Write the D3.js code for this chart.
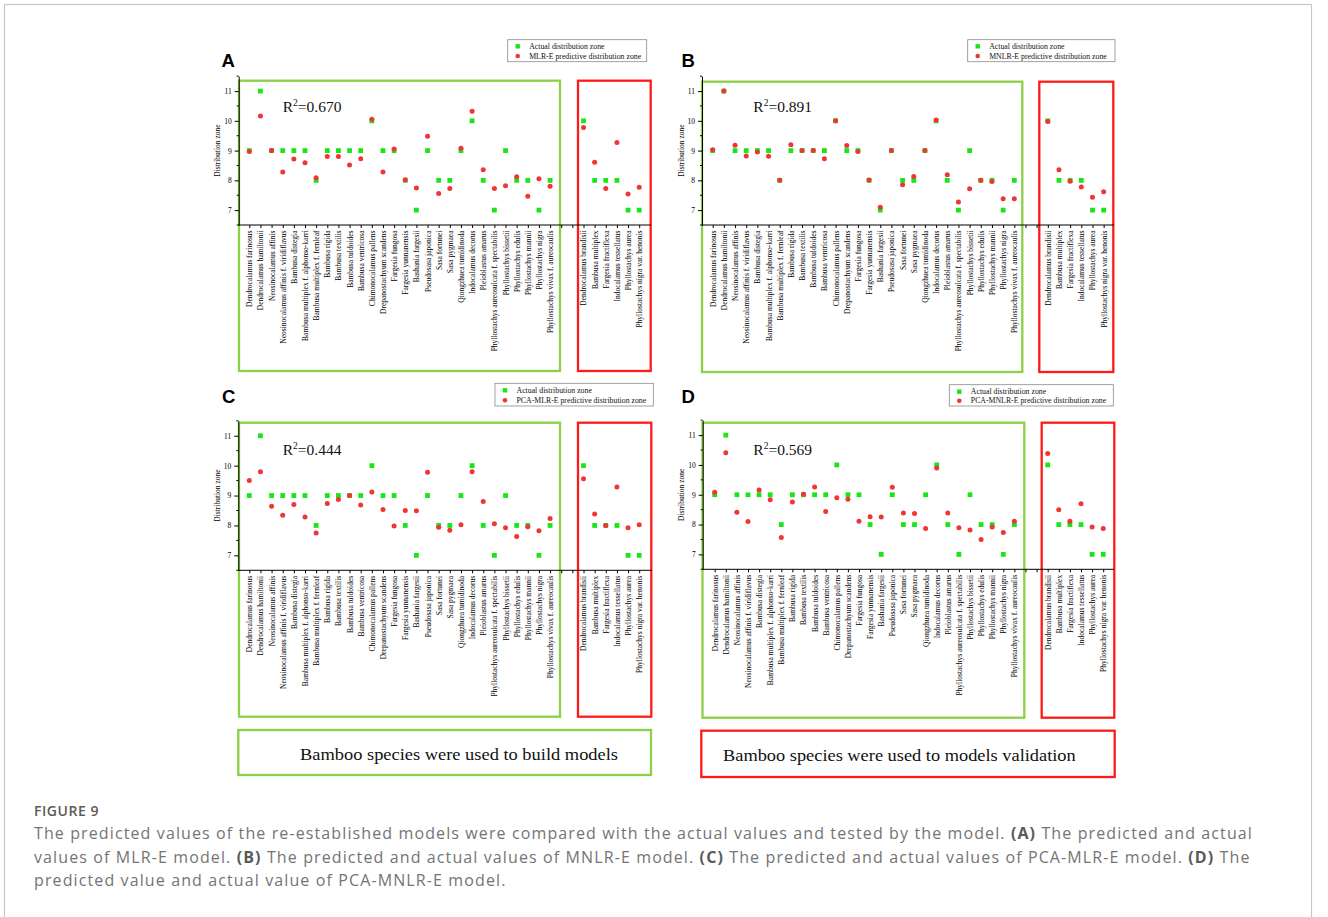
<!DOCTYPE html>
<html><head><meta charset="utf-8">
<script src="https://cdn.jsdelivr.net/npm/d3@7"></script>
<style>
html,body{margin:0;padding:0;background:#fff;}
svg{display:block;}
</style></head>
<body>
<svg id="fig" width="1328" height="917"></svg>
<script>
// ---------- DATA ----------
const buildSpecies = [
 "Dendrocalamus farinosus","Dendrocalamus hamiltonii","Neosinocalamus affinis",
 "Neosinocalamus affinis f. viridiflavus","Bambusa distegia","Bambusa multiplex f. alphonso-karri",
 "Bambusa multiplex f. fernleaf","Bambusa rigida","Bambusa textilis","Bambusa tuldoides",
 "Bambusa ventricosa","Chimonocalamus pallens","Drepanostachyum scandens","Fargesia fungosa",
 "Fargesia yunnanensis","Bashania fargesii","Pseudosasa japonica","Sasa fortunei","Sasa pygmaea",
 "Qiongzhuea tumidinoda","Indocalamus decorus","Pleioblastus amarus",
 "Phyllostachys aureosulcata f. spectabilis","Phyllostachys bissetii","Phyllostachys edulis",
 "Phyllostachys mannii","Phyllostachys nigra","Phyllostachys vivax f. aureocaulis"
];
const gapSlots = ["", " "];
const validationSpecies = [
 "Dendrocalamus brandisii","Bambusa multiplex","Fargesia fractiflexa",
 "Indocalamus tessellatus","Phyllostachys aurea","Phyllostachys nigra var. henonis"
];
const actualZone = [9,11,9,9,9,9,8,9,9,9,9,10,9,9,8,7,9,8,8,9,10,8,7,9,8,8,7,8, 10,8,8,8,7,7];
const predMLR = [8.97,10.16,9.0,8.28,8.72,8.59,8.09,8.8,8.8,8.52,8.73,10.05,8.28,9.05,8.02,7.74,9.48,7.56,7.73,9.08,10.32,8.36,7.73,7.82,8.12,7.47,8.05,7.8, 9.78,8.61,7.73,9.27,7.54,7.77];
const predMNLR = [9.03,11.0,9.18,8.82,8.95,8.81,8.0,9.2,9.0,9.0,8.73,10.0,9.17,8.97,8.01,7.1,9.0,7.85,8.13,9.0,10.03,8.19,7.27,7.72,8.0,7.96,7.38,7.38, 9.98,8.36,7.97,7.78,7.43,7.62];
const predPCAMLR = [9.5,9.8,8.64,8.34,8.7,8.28,7.75,8.73,8.87,9.0,8.68,9.12,8.53,7.98,8.5,8.49,9.78,7.94,7.84,8.02,9.8,8.8,8.06,7.92,7.63,7.96,7.82,8.23, 9.56,8.38,8.0,9.29,7.92,8.02];
const predPCAMNLR = [9.08,10.41,8.41,8.1,9.16,8.83,7.57,8.76,9.02,9.26,8.44,8.9,8.85,8.11,8.26,8.25,9.25,8.39,8.37,7.87,9.9,8.39,7.89,7.82,7.5,7.92,7.73,8.11, 10.38,8.5,8.11,8.7,7.92,7.87];
const panelLetters = ["A","B","C","D"];
const modelNames = ["MLR-E","MNLR-E","PCA-MLR-E","PCA-MNLR-E"];
const r2Values = ["0.670","0.891","0.444","0.569"];
const yTicks = [7,8,9,10,11];
const yMinorTicks = [6.5,7.5,8.5,9.5,10.5,11.5];
const yDomain = [6.5, 11.5];
const legendActual = "Actual distribution zone";
const legendPredSuffix = " predictive distribution zone";
const yTitle = "Distribution zone";
const bottomNotes = ["Bamboo species were used to build models","Bamboo species were used to models validation"];
const captionTitle = "FIGURE 9";

// ---------- LAYOUT ----------
const slots = buildSpecies.concat(gapSlots, validationSpecies);
const preds = [predMLR, predMNLR, predPCAMLR, predPCAMNLR];
const layout = [
 {ax:238.7, x0:249.3, step:11.14, yTop:76.2, yBot:225,  axEnd:651, green:[239,80.7,560,371],   red:[578,80.7,650.7,371],    leg:[507.7,39.7,646.7,61.7], legRows:[46.3,56], letter:[221.5,66.7], r2:[282.7,111.7]},
 {ax:702,   x0:712.7, step:11.17, yTop:76.2, yBot:225,  axEnd:1114,green:[702,81.7,1022.3,372], red:[1039.3,81.7,1113.3,372], leg:[967.7,39.7,1115,61.7],  legRows:[46.3,56], letter:[681.5,66.5], r2:[753.3,112]},
 {ax:238.3, x0:249.3, step:11.14, yTop:420.8,yBot:570.3,axEnd:652, green:[239,422.7,560,716.7], red:[578,422.7,651.3,716.7], leg:[495,383.3,653.3,406],   legRows:[390.3,400.3], letter:[222,402.7], r2:[282.7,455]},
 {ax:702.7, x0:714.7, step:11.1,  yTop:420.2,yBot:569.3,axEnd:1114,green:[702.5,422.7,1024.3,717.7], red:[1041.7,422.7,1114.3,717.7], leg:[949.3,384.7,1113.3,406], legRows:[391.7,400.7], letter:[681.5,403.3], r2:[753.3,455]}
];
const GREEN_BOX = "#8bd046", RED_BOX = "#ff1a1a", GREEN_PT = "#19e619", RED_PT = "#f03535";
const SERIF = "'Liberation Serif','Times New Roman',serif";

const svg = d3.select("#fig");
svg.append("rect").attr("x",4.5).attr("y",4.5).attr("width",1307).attr("height",940)
  .attr("fill","none").attr("stroke","#c8c8c8").attr("stroke-width",1.2);

layout.forEach((L, p) => {
  const g = svg.append("g");
  const x = d3.scalePoint().domain(d3.range(slots.length)).range([L.x0, L.x0 + L.step*(slots.length-1)]).padding(0);
  const y = d3.scaleLinear().domain(yDomain).range([L.yBot, L.yTop]);

  const box = (b, c) => g.append("rect").attr("x",b[0]).attr("y",b[1]).attr("width",b[2]-b[0]).attr("height",b[3]-b[1])
      .attr("fill","none").attr("stroke",c).attr("stroke-width",2.3);
  box(L.green, GREEN_BOX); box(L.red, RED_BOX);

  const yAxis = g.append("g").attr("transform",`translate(${L.ax},0)`)
    .call(d3.axisLeft(y).tickValues(yTicks).tickSize(4).tickSizeOuter(0).tickPadding(3).tickFormat(d3.format("d")));
  yAxis.select(".domain").attr("stroke","#000").attr("stroke-width",1);
  yAxis.selectAll("text").attr("font-family",SERIF).attr("font-size",7.5).attr("fill","#000");
  yAxis.selectAll("line").attr("stroke","#000");
  g.append("g").selectAll("line").data(yMinorTicks).join("line")
    .attr("x1",L.ax-2).attr("x2",L.ax).attr("y1",d=>y(d)).attr("y2",d=>y(d)).attr("stroke","#000").attr("stroke-width",1);

  const xAxis = g.append("g").attr("transform",`translate(0,${L.yBot})`)
    .call(d3.axisBottom(x).tickSize(3).tickSizeOuter(0).tickFormat(i => slots[i].trim()));
  xAxis.select(".domain").remove();
  xAxis.selectAll("line").attr("stroke","#000");
  xAxis.selectAll("text")
    .attr("font-family",SERIF).attr("font-size",7.5).attr("fill","#000")
    .attr("text-anchor","end").attr("transform","rotate(-90)")
    .attr("x",-5.5).attr("y",0).attr("dy","0.33em");
  g.append("line").attr("x1",L.ax).attr("x2",L.axEnd).attr("y1",L.yBot).attr("y2",L.yBot)
    .attr("stroke","#000").attr("stroke-width",1);

  g.append("text").attr("transform",`translate(${L.ax-18.5},${(L.yTop+L.yBot)/2}) rotate(-90)`)
    .attr("text-anchor","middle").attr("font-family",SERIF).attr("font-size",7.5).text(yTitle);

  const idx = d3.range(slots.length).filter(i => slots[i].trim() !== "");
  const dataIdx = idx.map((s,k)=>({slot:s, k}));
  g.append("g").selectAll("rect").data(dataIdx).join("rect")
    .attr("x",d=>x(d.slot)-2.4).attr("y",d=>y(actualZone[d.k])-2.4).attr("width",4.8).attr("height",4.8).attr("fill",GREEN_PT);
  g.append("g").selectAll("circle").data(dataIdx).join("circle")
    .attr("cx",d=>x(d.slot)).attr("cy",d=>y(preds[p][d.k])).attr("r",2.5).attr("fill",RED_PT);

  const rt = g.append("text").attr("x",L.r2[0]).attr("y",L.r2[1]).attr("font-family",SERIF).attr("font-size",15.5).attr("fill","#111");
  rt.append("tspan").text("R");
  rt.append("tspan").attr("font-size",9.5).attr("dy",-6).text("2");
  rt.append("tspan").attr("dy",6).text("=" + r2Values[p]);

  g.append("text").attr("x",L.letter[0]).attr("y",L.letter[1]).attr("font-family","'Liberation Sans',Arial,sans-serif")
    .attr("font-weight","bold").attr("font-size",18.5).attr("fill","#000").text(panelLetters[p]);

  const lg = L.leg;
  g.append("rect").attr("x",lg[0]).attr("y",lg[1]).attr("width",lg[2]-lg[0]).attr("height",lg[3]-lg[1])
    .attr("fill","#fff").attr("stroke","#8a8a8a").attr("stroke-width",0.8);
  g.append("rect").attr("x",lg[0]+10-2.2).attr("y",L.legRows[0]-2.2).attr("width",4.4).attr("height",4.4).attr("fill",GREEN_PT);
  g.append("circle").attr("cx",lg[0]+10).attr("cy",L.legRows[1]).attr("r",2.3).attr("fill",RED_PT);
  [legendActual, modelNames[p] + legendPredSuffix].forEach((t,i) => {
    g.append("text").attr("x",lg[0]+21.5).attr("y",L.legRows[i]).attr("dy","0.33em")
      .attr("font-family",SERIF).attr("font-size",7.8).attr("fill","#111").text(t);
  });
});

const notes = [
 {b:[238.3,730,651,775], c:GREEN_BOX, tx:300, ty:760, w:318},
 {b:[701.3,730.7,1114.7,777], c:RED_BOX, tx:723, ty:760.5, w:352.7}
];
notes.forEach((n,i) => {
  svg.append("rect").attr("x",n.b[0]).attr("y",n.b[1]).attr("width",n.b[2]-n.b[0]).attr("height",n.b[3]-n.b[1])
    .attr("fill","none").attr("stroke",n.c).attr("stroke-width",2.3);
  svg.append("text").attr("x",n.tx).attr("y",n.ty).attr("font-family",SERIF).attr("font-size",17.5)
    .attr("fill","#111").attr("textLength",n.w).attr("lengthAdjust","spacingAndGlyphs").text(bottomNotes[i]);
});

// caption
const CAP = "'Open Sans','Noto Sans',sans-serif";
const ft = svg.append("text").attr("x",34).attr("y",816.3).attr("font-family",CAP).attr("font-size",14)
  .attr("font-weight",600).attr("fill","#5a5a5a").text(captionTitle);
{
  const w = ft.node().getComputedTextLength();
  const ls = (65 - w) / (captionTitle.length);
  ft.attr("letter-spacing", ls);
}
const capLines = [
 [["The predicted values of the re-established models were compared with the actual values and tested by the model. ",0],["(A)",1],[" The predicted and actual",0]],
 [["values of MLR-E model. ",0],["(B)",1],[" The predicted and actual values of MNLR-E model. ",0],["(C)",1],[" The predicted and actual values of PCA-MLR-E model. ",0],["(D)",1],[" The",0]],
 [["predicted value and actual value of PCA-MNLR-E model.",0]]
];
const capY = [839, 862.5, 886];
const capTexts = capLines.map((line,i) => {
  const t = svg.append("text").attr("x",34).attr("y",capY[i]).attr("font-family",CAP).attr("font-size",16)
    .attr("fill","#747474").attr("xml:space","preserve").style("white-space","pre");
  line.forEach(([s,b]) => t.append("tspan").attr("font-weight",b?700:400).attr("fill",b?"#5a5a5a":"#747474").text(s));
  return t;
});
{
  const w1 = capTexts[0].node().getComputedTextLength();
  const n1 = capLines[0].map(d=>d[0]).join("").length;
  const ls = Math.max(0, (1219 - w1) / n1);
  capTexts.forEach(t => t.attr("letter-spacing", ls));
}
</script>
</body></html>
